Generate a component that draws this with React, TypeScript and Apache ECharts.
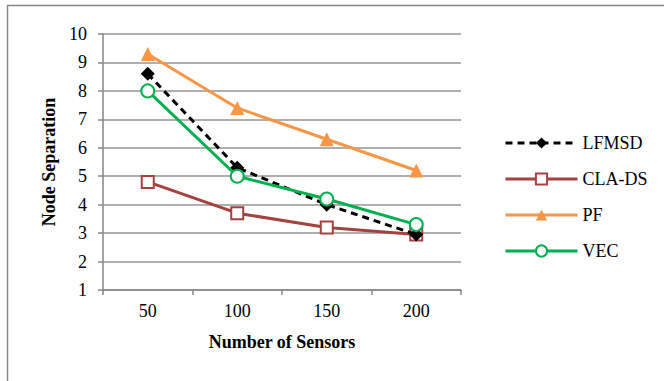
import React, { useEffect, useRef } from "react";
import * as echarts from "echarts";

const categories = ["50", "100", "150", "200"];
const lfmsd = [8.6, 5.3, 4.0, 2.95];
const clads = [4.8, 3.7, 3.2, 2.95];
const pf = [9.3, 7.4, 6.3, 5.2];
const vec = [8.0, 5.0, 4.2, 3.3];

const FONT = "'Liberation Serif', 'Times New Roman', serif";

export default function App() {
  const ref = useRef<HTMLDivElement>(null);

  useEffect(() => {
    if (!ref.current) return;
    const chart = echarts.init(ref.current, undefined, { renderer: "svg" });
    chart.setOption({
      animation: false,
      backgroundColor: "#ffffff",
      textStyle: { fontFamily: FONT },
      graphic: [
        {
          type: "line",
          shape: { x1: 7, y1: 5.5, x2: 664, y2: 5.5 },
          style: { stroke: "#868686", lineWidth: 1.5 },
        },
        {
          type: "line",
          shape: { x1: 7.5, y1: 5, x2: 7.5, y2: 381 },
          style: { stroke: "#868686", lineWidth: 1.5 },
        },
      ],
      grid: { left: 103, top: 34, width: 358, height: 256, containLabel: false },
      legend: {
        orient: "vertical",
        left: 499,
        top: 129,
        itemWidth: 72,
        itemHeight: 14,
        itemGap: 18,
        lineStyle: { width: 3 },
        textStyle: { fontFamily: FONT, fontSize: 18, color: "#000" },
        data: ["LFMSD", "CLA-DS", "PF", "VEC"],
      },
      xAxis: {
        type: "category",
        data: categories,
        boundaryGap: true,
        name: "Number of Sensors",
        nameLocation: "middle",
        nameGap: 43,
        nameTextStyle: { fontFamily: FONT, fontSize: 18, fontWeight: "bold", color: "#000" },
        axisLine: { lineStyle: { color: "#868686", width: 1.5 } },
        axisTick: { show: true, length: 5, alignWithLabel: false, lineStyle: { color: "#868686", width: 1.5 } },
        axisLabel: { fontFamily: FONT, fontSize: 18, color: "#000", margin: 12 },
        splitLine: { show: false },
      },
      yAxis: {
        type: "value",
        min: 1,
        max: 10,
        interval: 1,
        name: "Node Separation",
        nameLocation: "middle",
        nameGap: 44,
        nameRotate: 90,
        nameTextStyle: { fontFamily: FONT, fontSize: 18, fontWeight: "bold", color: "#000" },
        axisLine: { show: true, lineStyle: { color: "#868686", width: 1.5 } },
        axisTick: { show: true, length: 5, lineStyle: { color: "#868686", width: 1.5 } },
        axisLabel: { fontFamily: FONT, fontSize: 18, color: "#000", margin: 16 },
        splitLine: { show: true, lineStyle: { color: "#959595", width: 1.5 } },
      },
      series: [
        {
          name: "PF",
          type: "line",
          data: pf,
          symbol: "triangle",
          symbolSize: 14,
          itemStyle: { color: "#f79646" },
          lineStyle: { color: "#f79646", width: 3 },
          z: 2,
        },
        {
          name: "CLA-DS",
          type: "line",
          data: clads,
          symbol: "emptyRect",
          symbolSize: 12,
          itemStyle: { color: "#a5423f", borderWidth: 1.5 },
          lineStyle: { color: "#a5423f", width: 3 },
          z: 3,
        },
        {
          name: "LFMSD",
          type: "line",
          data: lfmsd,
          symbol: "diamond",
          symbolSize: 14,
          itemStyle: { color: "#000000" },
          lineStyle: { color: "#000000", width: 3, type: [7, 5] },
          z: 4,
        },
        {
          name: "VEC",
          type: "line",
          data: vec,
          symbol: "emptyCircle",
          symbolSize: 13,
          itemStyle: { color: "#00b050", borderWidth: 1.5 },
          lineStyle: { color: "#00b050", width: 3 },
          z: 5,
        },
      ],
    });
    return () => chart.dispose();
  }, []);

  return (
    <div
      ref={ref}
      style={{ position: "fixed", left: 0, top: 0, width: 664, height: 381 }}
    />
  );
}
